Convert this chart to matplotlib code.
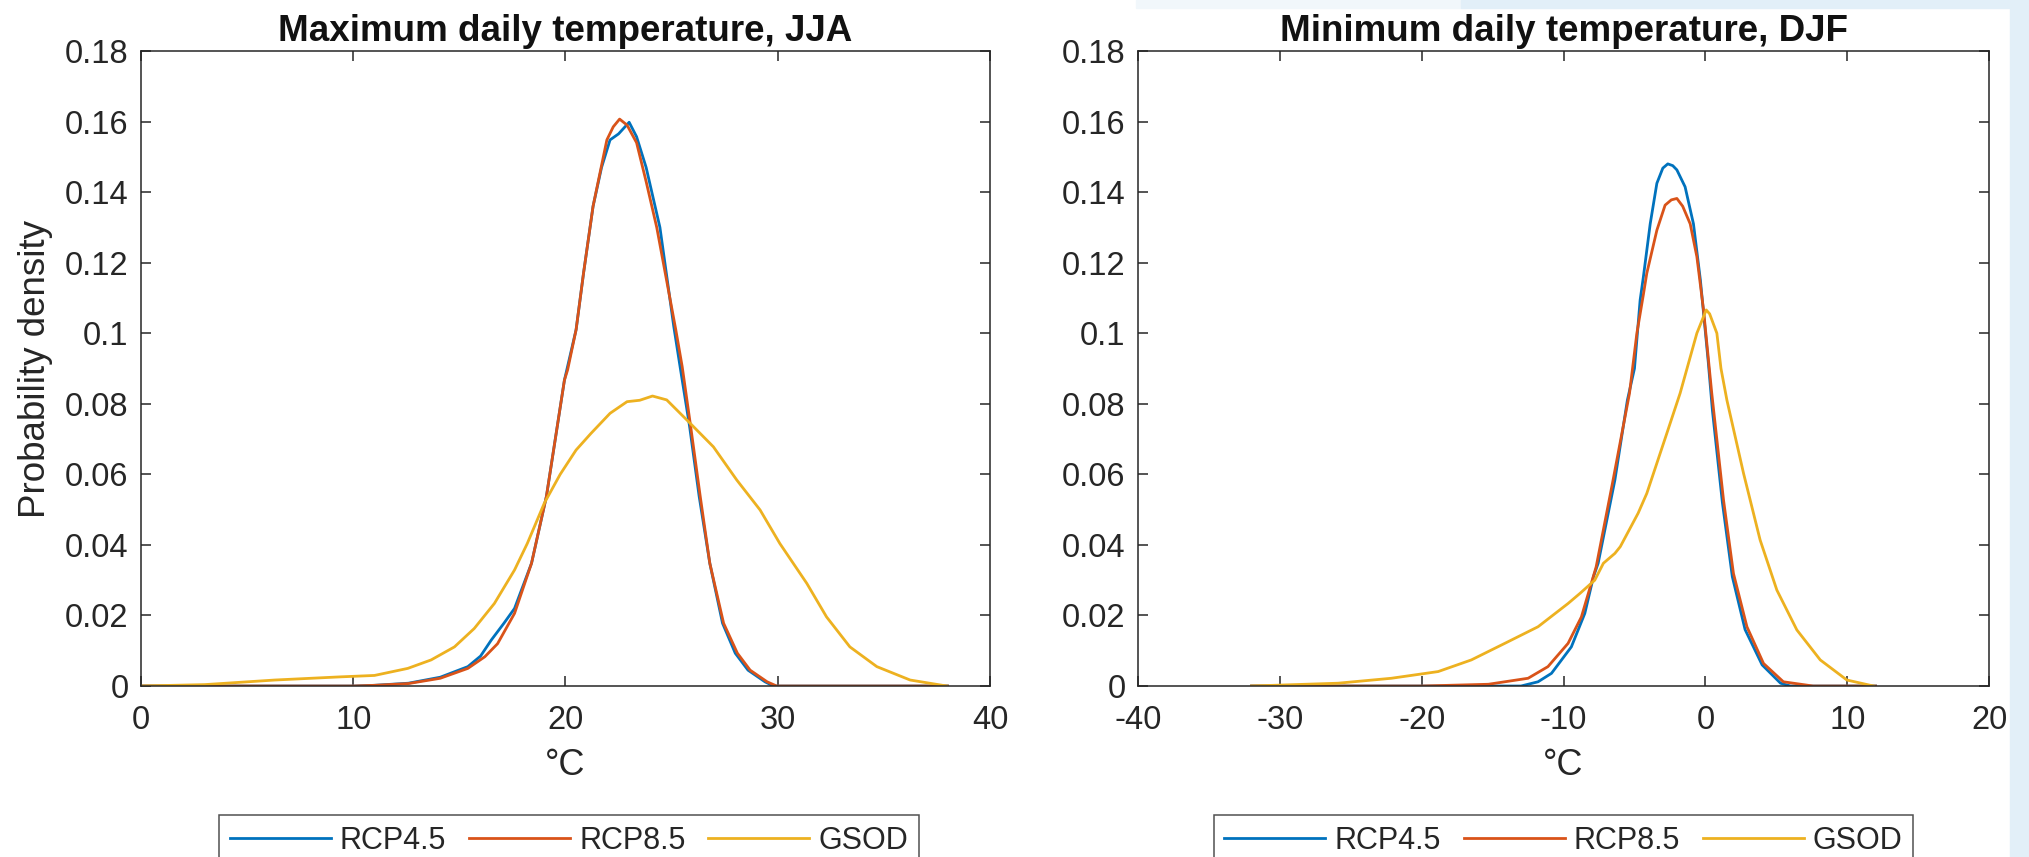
import matplotlib.pyplot as plt
from matplotlib.patches import Rectangle
from matplotlib.ticker import FuncFormatter

plt.rcParams["font.family"] = ["Liberation Sans", "DejaVu Sans"]

# colours used by MATLAB by default
C_RCP45 = "#0072BD"
C_RCP85 = "#D95319"
C_GSOD = "#EDB120"

# ---- left panel: maximum daily temperature, JJA ----
jja_rcp45_t = [0, 5, 10, 11, 12.6, 14.1, 15.4, 16.0, 16.5, 17.1, 17.6, 18.4, 19.1, 19.95,
               20.5, 20.85, 21.3, 21.7, 22.1, 22.5, 23.0, 23.35, 23.8, 24.45, 25.1, 25.4,
               25.85, 26.3, 26.8, 27.4, 28.0, 28.6, 29.4, 29.8, 32, 36, 38]
jja_rcp45_d = [0, 0, 0, 0.0002, 0.0008, 0.0025, 0.0055, 0.0085, 0.013, 0.0178, 0.022,
               0.0348, 0.0537, 0.0867, 0.101, 0.117, 0.136, 0.147, 0.1548, 0.1565, 0.1598,
               0.1557, 0.147, 0.130, 0.102, 0.0905, 0.0735, 0.0537, 0.0348, 0.0178, 0.0093,
               0.0045, 0.0012, 0, 0, 0, 0]

jja_rcp85_t = [0, 5, 10, 11, 12.6, 14.1, 15.4, 16.2, 16.8, 17.6, 18.4, 19.1, 19.95, 20.1,
               20.5, 20.85, 21.3, 21.95, 22.25, 22.55, 22.9, 23.35, 23.8, 24.3, 25.2, 25.5,
               25.9, 26.35, 26.8, 27.45, 28.1, 28.7, 29.5, 29.95, 32, 36, 38]
jja_rcp85_d = [0, 0, 0, 0.0002, 0.0007, 0.0022, 0.005, 0.0083, 0.012, 0.0206, 0.0348,
               0.0537, 0.0867, 0.0896, 0.101, 0.117, 0.136, 0.1548, 0.1585, 0.1607, 0.159,
               0.154, 0.143, 0.130, 0.1009, 0.0905, 0.0735, 0.0537, 0.0348, 0.0178, 0.0093,
               0.0045, 0.0012, 0, 0, 0, 0]

jja_gsod_t = [0, 3, 6.3, 9.4, 11.0, 12.57, 13.67, 14.77, 15.7, 16.65, 17.6, 18.2, 19.0,
              19.75, 20.5, 21.2, 22.1, 22.9, 23.5, 24.1, 24.77, 25.87, 26.97, 28.07, 29.17,
              30.1, 31.37, 32.3, 33.4, 34.67, 36.24, 37.97]
jja_gsod_d = [0, 0.0004, 0.0017, 0.0026, 0.003, 0.005, 0.0074, 0.0111, 0.0163, 0.0234,
              0.0329, 0.0404, 0.0518, 0.0600, 0.0669, 0.0716, 0.0773, 0.0806, 0.081, 0.0822,
              0.0811, 0.0745, 0.0678, 0.0584, 0.0499, 0.0404, 0.0291, 0.0196, 0.0111,
              0.0055, 0.0017, 0]

# ---- right panel: minimum daily temperature, DJF ----
djf_rcp45_t = [-32, -20, -15, -13.0, -11.8, -10.85, -9.45, -8.5, -7.89, -7.56, -6.38, -5.5,
               -5.0, -4.6, -4.37, -3.89, -3.42, -3.0, -2.65, -2.3, -2.01, -1.43, -0.84,
               -0.35, 0.2, 0.5, 1.2, 1.9, 2.8, 4.0, 5.3, 6.0, 12]
djf_rcp45_d = [0, 0, 0, 0, 0.0012, 0.0036, 0.0111, 0.0206, 0.031, 0.0348, 0.0584, 0.081,
               0.09, 0.1094, 0.116, 0.131, 0.1425, 0.1468, 0.148, 0.1475, 0.1463, 0.1415,
               0.131, 0.115, 0.092, 0.078, 0.052, 0.031, 0.016, 0.006, 0.0008, 0, 0]

djf_rcp85_t = [-32, -20, -15.3, -12.5, -11.1, -9.68, -8.74, -7.7, -6.55, -5.35, -4.83, -4.37,
               -4.13, -3.42, -2.84, -2.4, -2.01, -1.6, -1.07, -0.6, -0.13, 0.45, 1.28, 1.98,
               2.93, 4.1, 5.5, 7.6, 12]
djf_rcp85_d = [0, 0, 0.0005, 0.0022, 0.0055, 0.0121, 0.0196, 0.0338, 0.0575, 0.083, 0.100,
               0.111, 0.117, 0.1292, 0.1363, 0.1378, 0.1382, 0.136, 0.131, 0.1217, 0.1066,
               0.083, 0.0527, 0.0319, 0.0168, 0.0064, 0.0012, 0, 0]

djf_gsod_t = [-32, -25.9, -22.14, -18.84, -16.5, -14.14, -11.8, -9.68, -8.83, -7.8, -7.19,
              -6.38, -6.0, -4.74, -4.13, -2.72, -1.78, -0.6, 0.06, 0.3, 0.81, 1.1, 1.52,
              2.69, 3.86, 5.04, 6.45, 8.1, 9.98, 11.86]
djf_gsod_d = [0, 0.0008, 0.0022, 0.0041, 0.0074, 0.0121, 0.0168, 0.0234, 0.0263, 0.030,
              0.0348, 0.0376, 0.0395, 0.049, 0.0546, 0.0716, 0.083, 0.1, 0.1066, 0.1055, 0.1,
              0.09, 0.081, 0.0603, 0.0414, 0.0272, 0.0159, 0.0074, 0.0017, 0]

series_labels = ["RCP4.5", "RCP8.5", "GSOD"]
y_ticks = [0, 0.02, 0.04, 0.06, 0.08, 0.1, 0.12, 0.14, 0.16, 0.18]
jja_x_ticks = [0, 10, 20, 30, 40]
djf_x_ticks = [-40, -30, -20, -10, 0, 10, 20]

AX_COLOR = "#262626"
matlab_fmt = FuncFormatter(lambda v, p: "%g" % round(v, 2))


def style_axes(ax, xticks, title):
    ax.set_xlim(xticks[0], xticks[-1])
    ax.set_ylim(0, 0.18)
    ax.set_xticks(xticks)
    ax.set_yticks(y_ticks)
    ax.xaxis.set_major_formatter(matlab_fmt)
    ax.yaxis.set_major_formatter(matlab_fmt)
    ax.tick_params(direction="in", length=7, width=1.1, top=True, right=True,
                   labelsize=23.5, colors=AX_COLOR)
    ax.tick_params(axis="x", pad=14)
    ax.tick_params(axis="y", pad=9)
    for s in ax.spines.values():
        s.set_color(AX_COLOR)
        s.set_linewidth(1.1)
    ax.set_title(title, fontsize=26.5, fontweight="bold", color="#111111", pad=7)
    ax.set_xlabel("°C", fontsize=26, color=AX_COLOR, labelpad=8)


fig = plt.figure(figsize=(20.29, 8.57), dpi=100)

# light blue slide background showing at the right and top edges
fig.patches.append(Rectangle((0.9906, 0), 0.0094, 1, transform=fig.transFigure,
                             color="#e2eff8", zorder=0))
fig.patches.append(Rectangle((0.56, 0.9907), 0.16, 0.0093, transform=fig.transFigure,
                             color="#f1f7fb", zorder=0))
fig.patches.append(Rectangle((0.72, 0.9907), 0.28, 0.0093, transform=fig.transFigure,
                             color="#e2eff8", zorder=0))

ax1 = fig.add_axes([0.0695, 0.1995, 0.4184, 0.741])
ax2 = fig.add_axes([0.5609, 0.1995, 0.4194, 0.741])

lw = 2.0
ax1.plot(jja_rcp45_t, jja_rcp45_d, color=C_RCP45, lw=lw, label=series_labels[0])
ax1.plot(jja_rcp85_t, jja_rcp85_d, color=C_RCP85, lw=lw, label=series_labels[1])
ax1.plot(jja_gsod_t, jja_gsod_d, color=C_GSOD, lw=lw, label=series_labels[2])

ax2.plot(djf_rcp45_t, djf_rcp45_d, color=C_RCP45, lw=lw, label=series_labels[0])
ax2.plot(djf_rcp85_t, djf_rcp85_d, color=C_RCP85, lw=lw, label=series_labels[1])
ax2.plot(djf_gsod_t, djf_gsod_d, color=C_GSOD, lw=lw, label=series_labels[2])

style_axes(ax1, jja_x_ticks, "Maximum daily temperature, JJA")
style_axes(ax2, djf_x_ticks, "Minimum daily temperature, DJF")
ax1.set_ylabel("Probability density", fontsize=26.5, color=AX_COLOR, labelpad=8.5)

for ax, cx in [(ax1, 0.2804), (ax2, 0.7706)]:
    leg = ax.legend(loc="upper center", bbox_to_anchor=(cx, 0.049),
                    bbox_transform=fig.transFigure, ncol=3, fontsize=22,
                    frameon=True, fancybox=False, handlelength=3.3,
                    handletextpad=0.3, columnspacing=0.75, borderpad=0.35,
                    borderaxespad=0)
    leg.get_frame().set_edgecolor(AX_COLOR)
    leg.get_frame().set_linewidth(1.1)
    for t in leg.get_texts():
        t.set_color(AX_COLOR)

fig.savefig("out.png", dpi=100)
